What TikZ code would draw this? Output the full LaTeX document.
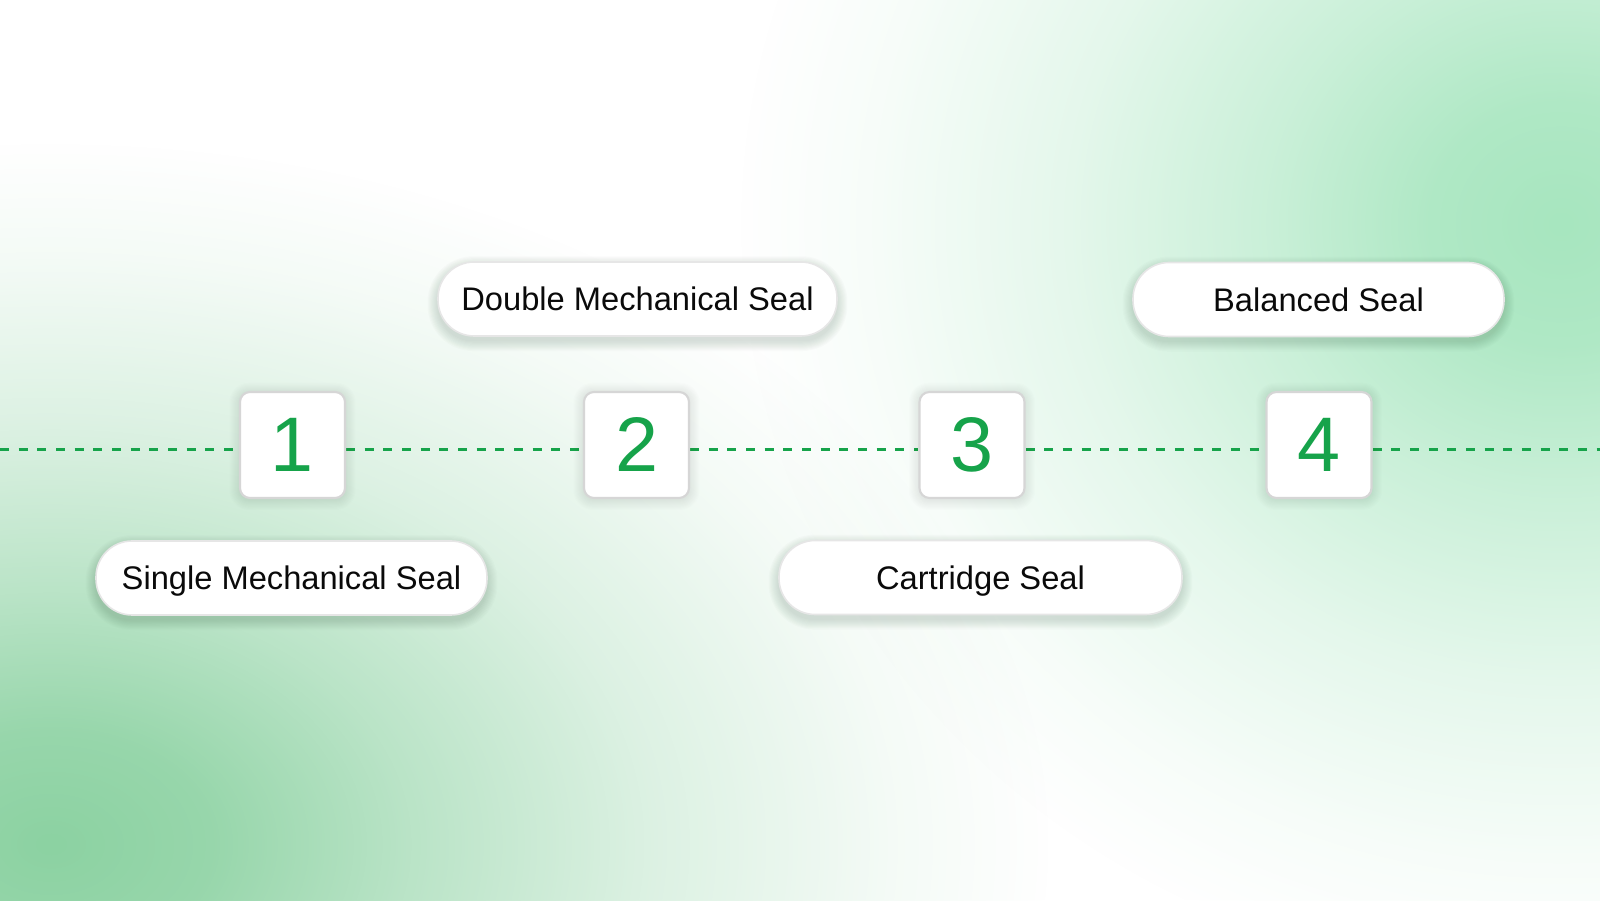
\documentclass[tikz,border=0pt]{standalone}
\usepackage{fontspec}
\setmainfont{Liberation Sans}
\usetikzlibrary{fadings}
\pgfdeclareradialshading{blobsh}{\pgfpointorigin}{color(0bp)=(transparent!0); color(4bp)=(transparent!10); color(9bp)=(transparent!40); color(15bp)=(transparent!70); color(21bp)=(transparent!91); color(25bp)=(transparent!100); color(50bp)=(transparent!100)}
\pgfdeclarefading{softblob}{\pgfuseshading{blobsh}}
\pgfdeclarelayer{back}
\pgfdeclarelayer{shad}
\pgfsetlayers{back,shad,main}
\definecolor{sealgreen}{HTML}{16A34A}
\definecolor{blobA}{HTML}{8CD2A2}
\definecolor{blobB}{HTML}{A7E6BF}
\definecolor{boxline}{HTML}{D6D6D6}
\definecolor{pillline}{HTML}{E6E6E6}
\definecolor{ink}{HTML}{0A0A0A}
\definecolor{shadowcol}{HTML}{1F3A2A}
\tikzset{
  pill/.style={draw=pillline, line width=1.2pt, fill=white, rounded corners=27pt,
    minimum height=55.5pt, inner sep=0pt, font=\fontsize{24.5pt}{28pt}\selectfont,
    text=ink, text height=17.5pt, text depth=0pt},
  numbox/.style={draw=boxline, line width=1.6pt, fill=white, rounded corners=7.5pt,
    minimum width=78.75pt, minimum height=79.5pt, inner sep=0pt,
    font=\fontsize{58pt}{60pt}\selectfont, text=sealgreen},
  guide/.style={draw=sealgreen, line width=2.25pt, dash pattern=on 6.75pt off 7.25pt},
  shadlayer/.style={fill=shadowcol, opacity=#1},
  shadlayer/.default=0.016
}
\newcommand\softshadow[4]{% node, corner radius (pt), y offset (pt), opacity
  \foreach \g in {0,...,9}{%
    \fill[shadlayer=#4, rounded corners=#2+\g*0.8pt]
      ([xshift=-\g*0.8pt, yshift=-#3-\g*0.8pt]#1.south west) rectangle
      ([xshift=\g*0.8pt, yshift=-#3+\g*0.8pt]#1.north east);
  }}
\begin{document}
\begin{tikzpicture}[x=0.75pt,y=0.75pt]
\useasboundingbox (0,0) rectangle (1600,900);
\begin{pgfonlayer}{back}
  \clip (0,0) rectangle (1600,900);
  \fill[white] (0,0) rectangle (1600,900);
  \fill[blobA, path fading=softblob] (51,56) ellipse [x radius=1000, y radius=700];
  \fill[blobB, path fading=softblob] (1561,676) ellipse [x radius=820, y radius=760];
\end{pgfonlayer}

\coordinate (L) at (0,450);
\coordinate (R) at (1600,450);

\node[numbox] (b1) at (292.5,455) {1};
\node[numbox] (b2) at (636.5,455) {2};
\node[numbox] (b3) at (972,455) {3};
\node[numbox] (b4) at (1319,455) {4};

\begin{pgfonlayer}{shad}
\draw[guide] (L) -- ([yshift=-3.75pt]b1.west);
\draw[guide] ([yshift=-3.75pt]b1.east) -- ([yshift=-3.75pt]b2.west);
\draw[guide] ([yshift=-3.75pt]b2.east) -- ([yshift=-3.75pt]b3.west);
\draw[guide] ([yshift=-3.75pt]b3.east) -- ([yshift=-3.75pt]b4.west);
\draw[guide] ([yshift=-3.75pt]b4.east) -- (R);
\end{pgfonlayer}

\node[pill, minimum width=299.25pt] (double) at (637.5,601) {Double Mechanical Seal};
\node[pill, minimum width=278.25pt] (balanced) at (1318.5,600.5) {Balanced Seal};
\node[pill, minimum width=293.25pt] (single) at (291.5,322) {Single Mechanical Seal};
\node[pill, minimum width=302.25pt] (cartridge) at (980.5,322.5) {Cartridge Seal};

\begin{pgfonlayer}{shad}
  \softshadow{double}{27pt}{3.5pt}{0.015}
  \softshadow{balanced}{27pt}{3.5pt}{0.015}
  \softshadow{single}{27pt}{3.5pt}{0.015}
  \softshadow{cartridge}{27pt}{3.5pt}{0.015}
  \softshadow{b1}{7.5pt}{1pt}{0.006}
  \softshadow{b2}{7.5pt}{1pt}{0.006}
  \softshadow{b3}{7.5pt}{1pt}{0.006}
  \softshadow{b4}{7.5pt}{1pt}{0.006}
\end{pgfonlayer}
\end{tikzpicture}
\end{document}
